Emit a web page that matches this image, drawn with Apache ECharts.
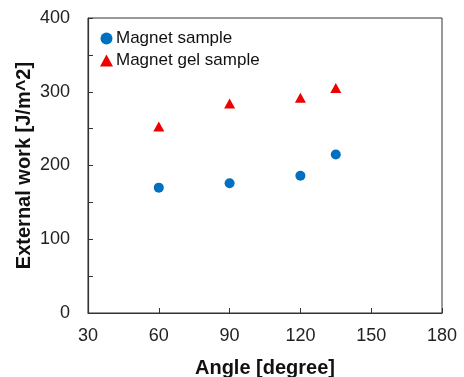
<!DOCTYPE html>
<html>
<head>
<meta charset="utf-8">
<script src="https://cdn.jsdelivr.net/npm/echarts@6/dist/echarts.min.js"></script>
<style>
  html, body { margin: 0; padding: 0; background: #fff; }
  #chart { width: 464px; height: 377px; }
</style>
</head>
<body>
<div id="chart"></div>
<script>
const angles = [60, 90, 120, 135]
const magnetWork = [170, 176, 186, 215]
const magnetGelWork = [253, 284, 292, 305]
const seriesNames = ['Magnet sample', 'Magnet gel sample']

const font = 'Arial, "Liberation Sans", sans-serif'
const chart = echarts.init(document.getElementById('chart'))

const toPairs = (xs, ys) => xs.map((x, i) => [x, ys[i]])

chart.setOption({
  animation: false,
  grid: {
    left: 88,
    right: 22,
    top: 18,
    bottom: 64,
    outerBoundsMode: 'none',
    show: true,
    borderColor: '#333',
    borderWidth: 1,
  },
  legend: {
    orient: 'vertical',
    left: 95,
    top: 25,
    itemGap: 5,
    itemWidth: 13,
    itemHeight: 12,
    textStyle: { fontFamily: font, fontSize: 17, color: '#111', padding: [0, 0, 0, -2] },
    data: [
      { name: seriesNames[0], icon: 'circle', itemStyle: { opacity: 1 } },
      { name: seriesNames[1], icon: 'triangle', itemStyle: { opacity: 1 } },
    ],
  },
  xAxis: {
    type: 'value',
    min: 30,
    max: 180,
    interval: 30,
    name: 'Angle [degree]',
    nameLocation: 'middle',
    nameGap: 45,
    nameMoveOverlap: false,
    nameTextStyle: { fontFamily: font, fontSize: 20, fontWeight: 'bold', color: '#111' },
    axisLine: { lineStyle: { color: '#333', width: 1.2 } },
    axisTick: { inside: true, length: 5, lineStyle: { color: '#333' } },
    axisLabel: { fontFamily: font, fontSize: 18, color: '#222', margin: 14 },
    splitLine: { show: false },
  },
  yAxis: {
    type: 'value',
    min: 0,
    max: 400,
    interval: 100,
    name: 'External work [J/m^2]',
    nameLocation: 'middle',
    nameGap: 54,
    nameMoveOverlap: false,
    nameTextStyle: { fontFamily: font, fontSize: 20, fontWeight: 'bold', color: '#111' },
    axisLine: { show: true, lineStyle: { color: '#333', width: 1.2 } },
    axisTick: { inside: true, length: 5, lineStyle: { color: '#333' } },
    minorTick: { show: true, splitNumber: 2, length: 5, lineStyle: { color: '#333' } },
    axisLabel: { fontFamily: font, fontSize: 18, color: '#222', margin: 18 },
    splitLine: { show: false },
  },
  series: [
    {
      name: seriesNames[0],
      type: 'scatter',
      symbol: 'circle',
      symbolSize: 10,
      itemStyle: { color: '#0070C0', opacity: 1 },
      data: toPairs(angles, magnetWork),
    },
    {
      name: seriesNames[1],
      type: 'scatter',
      symbol: 'triangle',
      symbolSize: [11, 10],
      itemStyle: { color: '#EE0000', opacity: 1 },
      data: toPairs(angles, magnetGelWork),
    },
  ],
})
</script>
</body>
</html>
